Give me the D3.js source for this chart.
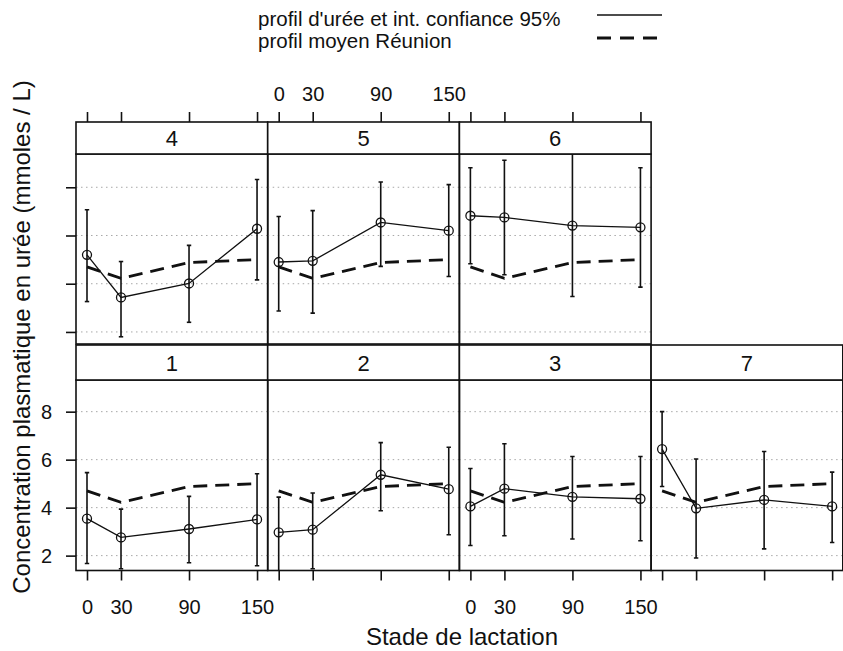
<!DOCTYPE html>
<html>
<head>
<meta charset="utf-8">
<script src="https://cdn.jsdelivr.net/npm/d3@7"></script>
<style>
  body { margin: 0; background: #fff; }
  svg text { font-family: "Liberation Sans", Arial, sans-serif; fill: #111; }
</style>
</head>
<body>
<div id="plot"></div>
<script>
// Urea profiles by group, lattice style panels

const stages = [0, 30, 90, 150];
const panelLabels = ["1", "2", "3", "4", "5", "6", "7"];
const panelCol = [0, 1, 2, 0, 1, 2, 3];
const panelRow = [1, 1, 1, 0, 0, 0, 1];
const yTicks = [2, 4, 6, 8];

// mean profile for Réunion (same in every panel)
const refProfile = [4.70, 4.22, 4.88, 5.00];

// urea means and 95% CI per panel (order of panelLabels)
const ureeMean = [
  [3.54, 2.76, 3.11, 3.51],
  [2.97, 3.08, 5.37, 4.77],
  [4.05, 4.79, 4.45, 4.37],
  [5.20, 3.43, 4.01, 6.28],
  [4.90, 4.95, 6.54, 6.20],
  [6.82, 6.75, 6.41, 6.34],
  [6.44, 3.97, 4.32, 4.05]
];
const ureeLow = [
  [1.67, 1.45, 1.70, 1.58],
  [1.20, 1.45, 3.87, 2.87],
  [2.42, 2.83, 2.69, 2.62],
  [3.26, 1.80, 2.40, 4.16],
  [2.87, 2.78, 4.72, 4.30],
  [4.83, 4.37, 3.47, 3.86],
  [4.88, 1.90, 2.28, 2.55]
];
const ureeHigh = [
  [5.46, 3.94, 4.47, 5.41],
  [4.44, 4.61, 6.71, 6.52],
  [5.63, 6.66, 6.13, 6.13],
  [7.07, 4.92, 5.59, 8.32],
  [6.79, 7.03, 8.22, 8.11],
  [8.81, 9.12, 9.70, 8.81],
  [8.00, 6.03, 6.34, 5.48]
];

const width = 843, height = 651;
const colLeft = 76, colW = 191.7;
const rows = [
  {strip: 122, top: 154, bottom: 344, domain: [1.50, 9.38]},
  {strip: 345, top: 380, bottom: 570.5, domain: [1.38, 9.32]}
];

const svg = d3.select("#plot")
  .append("svg")
  .attr("width", width)
  .attr("height", height);

const x = d3.scaleLinear().domain([-9.7, 159.4]).range([0, colW]);
const yScales = rows.map(r => d3.scaleLinear().domain(r.domain).range([r.bottom - r.top, 0]));

const line = (ys) => d3.line()
  .x((d, i) => x(stages[i]))
  .y(d => ys(d));

// panels
panelLabels.forEach((lab, p) => {
  const r = rows[panelRow[p]];
  const y = yScales[panelRow[p]];
  const ph = r.bottom - r.top;
  const g = svg.append("g").attr("transform", `translate(${colLeft + panelCol[p] * colW},${r.top})`);

  svg.append("clipPath").attr("id", "clip" + p)
    .append("rect").attr("width", colW).attr("height", ph);

  const inner = g.append("g").attr("clip-path", `url(#clip${p})`);

  // dotted grid
  inner.selectAll(".grid").data(yTicks).enter().append("line")
    .attr("x1", 0).attr("x2", colW)
    .attr("y1", d => y(d)).attr("y2", d => y(d))
    .attr("stroke", "#a8a8a8").attr("stroke-width", 1)
    .attr("stroke-dasharray", "1.5,3.5");

  // mean profile Réunion
  inner.append("path")
    .datum(refProfile)
    .attr("d", line(y))
    .attr("fill", "none")
    .attr("stroke", "#111")
    .attr("stroke-width", 2.8)
    .attr("stroke-dasharray", "14,8");

  // error bars
  stages.forEach((s, i) => {
    const cx = x(s);
    inner.append("line")
      .attr("x1", cx).attr("x2", cx)
      .attr("y1", y(ureeLow[p][i])).attr("y2", y(ureeHigh[p][i]))
      .attr("stroke", "#111").attr("stroke-width", 1.6);
    [ureeLow[p][i], ureeHigh[p][i]].forEach(v => {
      inner.append("line")
        .attr("x1", cx - 2.2).attr("x2", cx + 2.2)
        .attr("y1", y(v)).attr("y2", y(v))
        .attr("stroke", "#111").attr("stroke-width", 1.6);
    });
  });

  // urea profile
  inner.append("path")
    .datum(ureeMean[p])
    .attr("d", line(y))
    .attr("fill", "none")
    .attr("stroke", "#111")
    .attr("stroke-width", 1.3);

  inner.selectAll(".pt").data(ureeMean[p]).enter().append("circle")
    .attr("cx", (d, i) => x(stages[i]))
    .attr("cy", d => y(d))
    .attr("r", 4.5)
    .attr("fill", "none")
    .attr("stroke", "#111")
    .attr("stroke-width", 1.3);

  // panel border
  g.append("rect")
    .attr("width", colW).attr("height", ph)
    .attr("fill", "none").attr("stroke", "#111").attr("stroke-width", 1.6);

  // strip
  const sg = svg.append("g").attr("transform", `translate(${colLeft + panelCol[p] * colW},${r.strip})`);
  sg.append("rect")
    .attr("width", colW).attr("height", r.top - r.strip)
    .attr("fill", "#fff").attr("stroke", "#111").attr("stroke-width", 1.6);
  sg.append("text")
    .attr("x", colW / 2).attr("y", (r.top - r.strip) / 2 + 8)
    .attr("text-anchor", "middle")
    .style("font-size", "22px")
    .text(lab);

  // x axis ticks: bottom for bottom row, top for top row
  const top = panelRow[p] === 0;
  const labelled = top ? panelCol[p] === 1 : (panelCol[p] === 0 || panelCol[p] === 2);
  const axis = (top ? d3.axisTop(x) : d3.axisBottom(x))
    .tickValues(stages)
    .tickSize(10)
    .tickPadding(labelled ? (top ? 11.5 : 19) : 0)
    .tickFormat(d => labelled ? d : "");
  const ax = svg.append("g")
    .attr("transform", `translate(${colLeft + panelCol[p] * colW},${top ? r.strip : r.bottom})`)
    .call(axis);
  ax.select(".domain").remove();
  ax.selectAll("line").attr("stroke", "#111").attr("stroke-width", 1.6);
  ax.selectAll("text").style("font-size", "20px").attr("fill", "#111")
    .attr("font-family", "Liberation Sans, Arial, sans-serif");
});

// y axes on the left
rows.forEach((r, ri) => {
  const axis = d3.axisLeft(yScales[ri])
    .tickValues(yTicks)
    .tickSize(10)
    .tickPadding(14)
    .tickFormat(d => ri === 1 ? d : "");
  const ax = svg.append("g")
    .attr("transform", `translate(${colLeft},${r.top})`)
    .call(axis);
  ax.select(".domain").remove();
  ax.selectAll("line").attr("stroke", "#111").attr("stroke-width", 1.6);
  ax.selectAll("text").style("font-size", "20px").attr("fill", "#111")
    .attr("font-family", "Liberation Sans, Arial, sans-serif");
});

// axis titles
svg.append("text")
  .attr("x", 462).attr("y", 645)
  .attr("text-anchor", "middle")
  .style("font-size", "24px")
  .text("Stade de lactation");

svg.append("text")
  .attr("transform", "translate(30,337) rotate(-90)")
  .attr("text-anchor", "middle")
  .style("font-size", "24px")
  .text("Concentration plasmatique en urée (mmoles / L)");

// legend
const legend = svg.append("g");
legend.append("text").attr("x", 258).attr("y", 26)
  .style("font-size", "20.5px").text("profil d'urée et int. confiance 95%");
legend.append("text").attr("x", 258).attr("y", 48)
  .style("font-size", "20.5px").text("profil moyen Réunion");
legend.append("line")
  .attr("x1", 597).attr("x2", 662).attr("y1", 15).attr("y2", 15)
  .attr("stroke", "#111").attr("stroke-width", 1.4);
legend.append("line")
  .attr("x1", 597).attr("x2", 662).attr("y1", 38).attr("y2", 38)
  .attr("stroke", "#111").attr("stroke-width", 2.8)
  .attr("stroke-dasharray", "14,9");
</script>
</body>
</html>
